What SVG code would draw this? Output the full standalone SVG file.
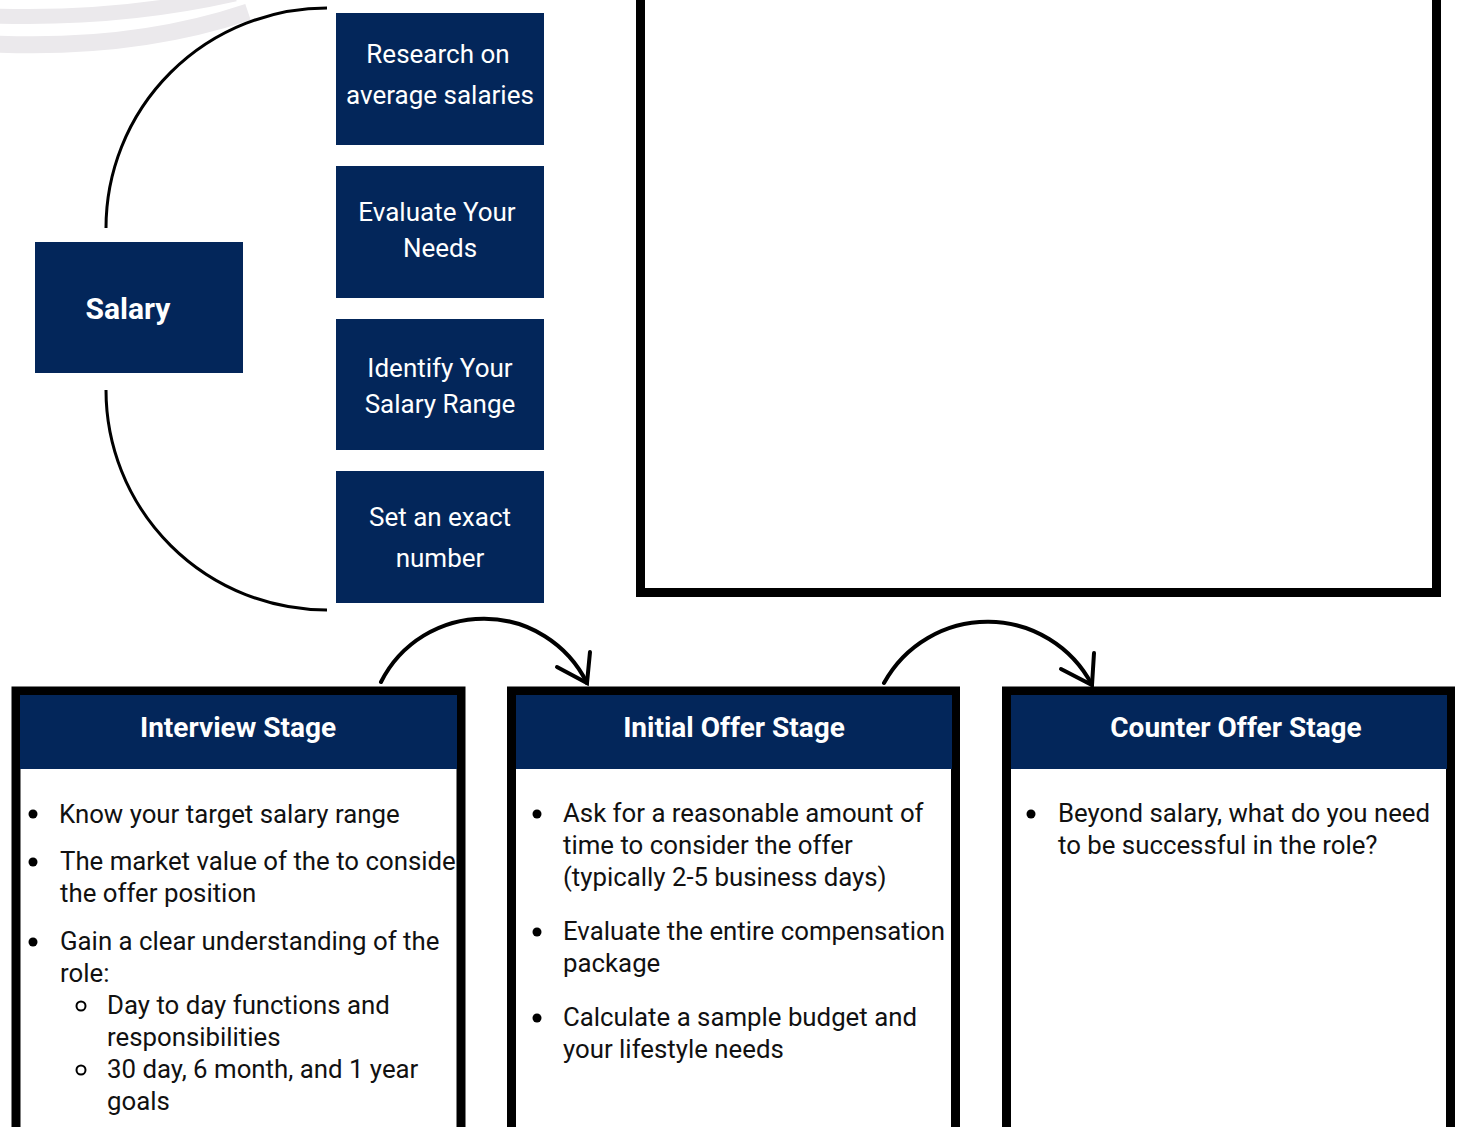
<svg xmlns="http://www.w3.org/2000/svg" width="1457" height="1127" viewBox="0 0 1457 1127">
<defs>
<style>
.navy{fill:#03265a}
.wt{fill:#ffffff;font-family:Roboto,"Liberation Sans",sans-serif}
.lbl{font-size:26px;text-anchor:middle}
.hdr{font-size:28px;font-weight:bold;text-anchor:middle}
.body{fill:#111111;font-family:Roboto,"Liberation Sans",sans-serif;font-size:25.8px}
.frame{fill:#ffffff;stroke:#000000;stroke-width:9}
.conn{fill:none;stroke:#000000;stroke-width:4;stroke-linecap:round}
.brace{fill:none;stroke:#000000;stroke-width:3}
.deco{fill:none;stroke:#ebe9ec}
</style>
<clipPath id="clip1"><rect x="20" y="769" width="437" height="360"/></clipPath>
</defs>
<rect width="1457" height="1127" fill="#ffffff"/>
<g id="decoration">
<path class="deco" stroke-width="15" d="M-5,16 Q120,20 235,-6"/>
<path class="deco" stroke-width="17" d="M-5,44 Q135,50 248,12"/>
</g>
<g id="big-frame"><rect class="frame" x="640.5" y="-20" width="796" height="612.5"/></g>
<g id="connectors">
<path class="brace" d="M327,8 A221,220 0 0 0 106,228"/>
<path class="brace" d="M106,390 A221,220 0 0 0 327,610"/>
<path class="conn" d="M381,682 A115,115 0 0 1 587,683"/>
<polyline class="conn" points="590,652 587,683 557,667"/>
<path class="conn" d="M884,683 A118,118 0 0 1 1092,685"/>
<polyline class="conn" points="1094,653 1092,685 1061,669"/>
</g>
<g id="salary">
<rect class="navy" x="35" y="242" width="208" height="131"/>
<text class="wt" x="128" y="319" font-size="30" font-weight="bold" text-anchor="middle">Salary</text>
</g>
<g id="research">
<rect class="navy" x="336" y="13" width="208" height="132"/>
<text class="wt lbl" x="438" y="63">Research on</text>
<text class="wt lbl" x="440" y="104">average salaries</text>
</g>
<g id="evaluate">
<rect class="navy" x="336" y="166" width="208" height="132"/>
<text class="wt lbl" x="437" y="221" font-size="23.3">Evaluate Your</text>
<text class="wt lbl" x="440" y="257" font-size="23.3">Needs</text>
</g>
<g id="identify">
<rect class="navy" x="336" y="319" width="208" height="131"/>
<text class="wt lbl" x="440" y="377" font-size="23.3">Identify Your</text>
<text class="wt lbl" x="440" y="413" font-size="23.3">Salary Range</text>
</g>
<g id="exact">
<rect class="navy" x="336" y="471" width="208" height="132"/>
<text class="wt lbl" x="440" y="526">Set an exact</text>
<text class="wt lbl" x="440" y="567">number</text>
</g>
<g id="interview">
<rect class="frame" x="16" y="691" width="445" height="450"/>
<rect class="navy" x="20" y="695" width="437" height="74"/>
<text class="wt hdr" x="238" y="737">Interview Stage</text>
<g clip-path="url(#clip1)">
<circle cx="33" cy="814" r="4.5" fill="#000"/>
<text class="body" x="59" y="823">Know your target salary range</text>
<circle cx="33" cy="862" r="4.5" fill="#000"/>
<text class="body" x="60" y="870">The market value of the to consider</text>
<text class="body" x="60" y="902">the offer position</text>
<circle cx="33" cy="942" r="4.5" fill="#000"/>
<text class="body" x="60" y="950">Gain a clear understanding of the</text>
<text class="body" x="60" y="982">role:</text>
<circle cx="81" cy="1006" r="4.5" fill="none" stroke="#000" stroke-width="2"/>
<text class="body" x="107" y="1014">Day to day functions and</text>
<text class="body" x="107" y="1046">responsibilities</text>
<circle cx="81" cy="1070" r="4.5" fill="none" stroke="#000" stroke-width="2"/>
<text class="body" x="107" y="1078">30 day, 6 month, and 1 year</text>
<text class="body" x="107" y="1110">goals</text>
</g>
</g>
<g id="initial-offer">
<rect class="frame" x="511.5" y="691" width="444" height="450"/>
<rect class="navy" x="516" y="695" width="436" height="74"/>
<text class="wt hdr" x="734" y="737">Initial Offer Stage</text>
<circle cx="537" cy="814" r="4.5" fill="#000"/>
<text class="body" x="563" y="822">Ask for a reasonable amount of</text>
<text class="body" x="563" y="854">time to consider the offer</text>
<text class="body" x="563" y="886">(typically 2-5 business days)</text>
<circle cx="537" cy="932" r="4.5" fill="#000"/>
<text class="body" x="563" y="940">Evaluate the entire compensation</text>
<text class="body" x="563" y="972">package</text>
<circle cx="537" cy="1018" r="4.5" fill="#000"/>
<text class="body" x="563" y="1026">Calculate a sample budget and</text>
<text class="body" x="563" y="1058">your lifestyle needs</text>
</g>
<g id="counter-offer">
<rect class="frame" x="1006.5" y="691" width="444" height="450"/>
<rect class="navy" x="1011" y="695" width="436" height="74"/>
<text class="wt hdr" x="1236" y="737">Counter Offer Stage</text>
<circle cx="1031" cy="814" r="4.5" fill="#000"/>
<text class="body" x="1058" y="822">Beyond salary, what do you need</text>
<text class="body" x="1058" y="854">to be successful in the role?</text>
</g>
</svg>
